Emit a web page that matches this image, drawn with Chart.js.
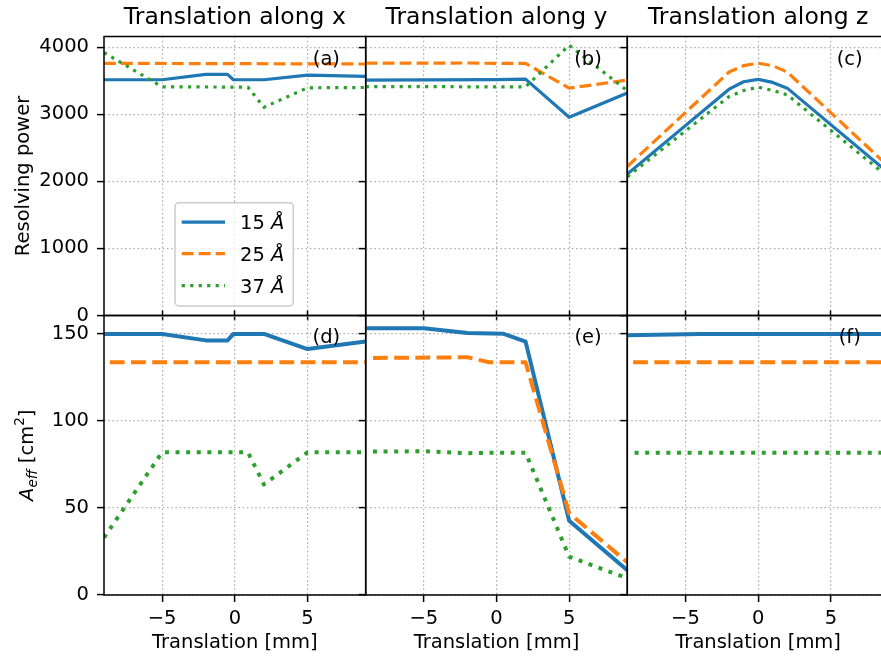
<!DOCTYPE html>
<html>
<head>
<meta charset="utf-8">
<script src="https://cdn.jsdelivr.net/npm/chart.js@4.4.0/dist/chart.umd.min.js"></script>
<style>
  html, body { margin: 0; padding: 0; background: #fff; overflow: hidden; }
  #wrap { position: relative; width: 881px; height: 657px; overflow: hidden; }
  #wrap canvas { position: absolute; left: 0; top: 0; }
</style>
</head>
<body>
<div id="wrap">
  <canvas id="pa" width="900" height="657"></canvas>
  <canvas id="pb" width="900" height="657"></canvas>
  <canvas id="pc" width="900" height="657"></canvas>
  <canvas id="pd" width="900" height="657"></canvas>
  <canvas id="pe" width="900" height="657"></canvas>
  <canvas id="pf" width="900" height="657"></canvas>
</div>
<script>
// labels and ticks
const columnTitles = ['Translation along x', 'Translation along y', 'Translation along z'];
const panelLabels = ['(a)', '(b)', '(c)', '(d)', '(e)', '(f)'];
const seriesNames = ['15', '25', '37'];   // wavelength in Å
const xTicks = [-5, 0, 5];
const powerTicks = [0, 1000, 2000, 3000, 4000];
const areaTicks = [0, 50, 100, 150];

// (a) resolving power, translation along x
const a15x = [-9, -5, -2, -0.5, -0.1, 2, 5, 9];
const a15y = [3515, 3515, 3595, 3595, 3515, 3515, 3585, 3565];
const a25x = [-9, 9];
const a25y = [3760, 3750];
const a37x = [-9, -5, 0.9, 2, 5, 9];
const a37y = [3920, 3410, 3405, 3105, 3395, 3400];

// (b) resolving power, translation along y
const b15x = [-9, -5, 0, 2, 5, 9];
const b15y = [3510, 3512, 3518, 3525, 2955, 3318];
const b25x = [-9, -5, -2, 0, 2, 5, 9];
const b25y = [3762, 3762, 3765, 3758, 3758, 3390, 3510];
const b37x = [-9, -5, 0, 2, 5, 9];
const b37y = [3413, 3413, 3408, 3410, 4030, 3350];

// (c) resolving power, translation along z
const c15x = [-9, -2, -1, 0, 1, 2, 9];
const c15y = [2110, 3375, 3485, 3520, 3475, 3390, 2120];
const c25x = [-9, -2, -1, 0, 1, 2, 9];
const c25y = [2222, 3630, 3725, 3762, 3725, 3630, 2215];
const c37x = [-9, -2, -1, 0, 1, 2, 9];
const c37y = [2070, 3265, 3355, 3405, 3355, 3290, 2055];

// (d) effective area, translation along x
const d15x = [-9, -5, -2, -0.5, -0.1, 2, 5, 9];
const d15y = [150, 150, 146.3, 146.3, 150, 150, 141.3, 145.6];
const d25x = [-8.6, 9];
const d25y = [133.7, 133.7];
const d37x = [-9, -5, 0.9, 2, 5, 9];
const d37y = [33, 82, 82, 63.5, 82, 82];

// (e) effective area, translation along y
const e15x = [-9, -5, -2, 0.5, 2, 5, 9];
const e15y = [153.3, 153.3, 150.5, 150.1, 145.6, 42.7, 14.2];
const e25x = [-8.5, -2, -0.5, 2, 5, 9];
const e25y = [136.2, 136.6, 133.7, 133.7, 47, 18.8];
const e37x = [-8.5, -5, -2, 0, 2, 5, 9];
const e37y = [82.4, 82.6, 81.5, 81.8, 81.8, 22, 9.6];

// (f) effective area, translation along z
const f15x = [-9, -4, 9];
const f15y = [149.3, 149.9, 150];
const f25x = [-8.6, 9];
const f25y = [133.7, 133.7];
const f37x = [-8.5, 9];
const f37y = [81.8, 81.8];

Chart.defaults.font.family = '"DejaVu Sans", sans-serif';
Chart.defaults.color = '#000';

const BLUE = '#1f77b4', ORANGE = '#ff7f0e', GREEN = '#2ca02c';
const FONT = '"DejaVu Sans"';
const colLeft = [104, 365.7, 627.3], colRight = [365.7, 627.3, 889];
const rowTop = [36.5, 315.5], rowBottom = [315.5, 595];
const CW = 900, CH = 657, YW = 96;

const pts = (xs, ys) => xs.map((x, i) => ({ x: x, y: ys[i] }));
const fmt = v => (v < 0 ? '\u2212' + Math.abs(v) : String(v));
const fixedTicks = vals => scale => { scale.ticks = vals.map(v => ({ value: v })); };

function gridOpts(len) {
  return { color: '#b0b0b0', lineWidth: 1.2, tickLength: len, tickColor: '#000', tickWidth: 1.5, tickBorderDash: [] };
}
const borderOpts = { display: false, dash: [1.6, 2.6] };

function drawLegend(chart) {
  const ctx = chart.ctx, a = chart.chartArea;
  const x0 = a.left + 71, y0 = a.top + 166.2;
  ctx.save();
  ctx.beginPath();
  ctx.roundRect(x0, y0, 118.3, 103.3, 4);
  ctx.fillStyle = 'rgba(255,255,255,0.8)';
  ctx.fill();
  ctx.strokeStyle = '#cccccc';
  ctx.lineWidth = 1.5;
  ctx.stroke();
  const rows = [y0 + 19.5, y0 + 51, y0 + 83];
  const order = chart.data.datasets.slice().sort((p, q) => q.order - p.order);
  order.forEach((ds, i) => {
    const y = rows[i];
    ctx.beginPath();
    ctx.setLineDash(ds.borderDash);
    ctx.lineDashOffset = 0;
    ctx.lineCap = 'butt';
    ctx.strokeStyle = ds.borderColor;
    ctx.lineWidth = ds.borderWidth;
    ctx.moveTo(x0 + 6.7, y);
    ctx.lineTo(x0 + 50, y);
    ctx.stroke();
    ctx.setLineDash([]);
    ctx.fillStyle = '#000';
    ctx.textAlign = 'left';
    ctx.textBaseline = 'alphabetic';
    ctx.font = '19.5px ' + FONT;
    const t = ds.label + ' ';
    ctx.fillText(t, x0 + 65, y + 6.8);
    const w = ctx.measureText(t).width;
    ctx.font = 'italic 19.5px ' + FONT;
    ctx.fillText('\u00C5', x0 + 65 + w, y + 6.8);
  });
  ctx.restore();
}

function drawAeff(ctx, cy) {
  const parts = [
    { t: 'A', f: 'italic 19.5px ' + FONT, dy: 0 },
    { t: 'eff', f: 'italic 13.6px ' + FONT, dy: 3.5 },
    { t: ' [cm', f: '19.5px ' + FONT, dy: 0 },
    { t: '2', f: '13.6px ' + FONT, dy: -9 },
    { t: ']', f: '19.5px ' + FONT, dy: 0 }
  ];
  ctx.save();
  ctx.translate(33, cy);
  ctx.rotate(-Math.PI / 2);
  ctx.textAlign = 'left';
  ctx.textBaseline = 'alphabetic';
  ctx.fillStyle = '#000';
  let total = 0;
  parts.forEach(p => { ctx.font = p.f; p.w = ctx.measureText(p.t).width; total += p.w; });
  let x = -total / 2;
  parts.forEach(p => { ctx.font = p.f; ctx.fillText(p.t, x, p.dy); x += p.w; });
  ctx.restore();
}

const decor = {
  id: 'decor',
  afterDraw(chart, args, o) {
    const ctx = chart.ctx, a = chart.chartArea;
    ctx.save();
    ctx.strokeStyle = '#000';
    ctx.lineWidth = 1.5;
    ctx.strokeRect(a.left, a.top, a.right - a.left, a.bottom - a.top);
    ctx.fillStyle = '#000';
    ctx.textAlign = 'center';
    ctx.textBaseline = 'alphabetic';
    ctx.font = '19.5px ' + FONT;
    ctx.fillText(o.label, a.right - 39.3, a.top + o.labelDy);
    if (o.title) {
      ctx.font = '23.5px ' + FONT;
      ctx.fillText(o.title, (a.left + a.right) / 2, 24);
    }
    ctx.restore();
    if (o.legend) drawLegend(chart);
    if (o.aeff) drawAeff(ctx, (a.top + a.bottom) / 2);
  }
};

function makePanel(id, col, row, lines, yTicks, yMax) {
  const lw = row === 0 ? 3.2 : 4;
  const dashes = [[], [3.7 * lw, 1.6 * lw], [lw, 1.65 * lw]];
  const colors = [BLUE, ORANGE, GREEN];
  const bottomRow = row === 1;
  const xH = bottomRow ? 60 : 5;
  const topH = bottomRow ? 5 : 0;
  const datasets = lines.map((ln, i) => ({
    label: seriesNames[i],
    data: pts(ln[0], ln[1]),
    borderColor: colors[i],
    borderWidth: lw,
    borderDash: dashes[i],
    borderCapStyle: 'butt',
    borderJoinStyle: 'round',
    pointRadius: 0,
    tension: 0,
    fill: false,
    clip: 0,
    order: 3 - i
  }));
  const scales = {
    x: {
      type: 'linear', min: -9, max: 9,
      afterBuildTicks: fixedTicks(xTicks),
      afterFit: s => { s.height = xH; },
      grid: gridOpts(bottomRow ? 7 : 5),
      border: borderOpts,
      ticks: { display: bottomRow, callback: fmt, padding: 5, maxRotation: 0, font: { size: 19.5 } },
      title: { display: bottomRow, text: 'Translation [mm]', font: { size: 19.5 }, padding: { top: 0, bottom: 0.5 } }
    },
    y: {
      type: 'linear', min: 0, max: yMax,
      afterBuildTicks: fixedTicks(yTicks),
      afterFit: s => { s.width = YW; },
      grid: gridOpts(7),
      border: borderOpts,
      ticks: { display: col === 0, callback: fmt, padding: 8, font: { size: 19.5 } },
      title: { display: col === 0 && row === 0, text: 'Resolving power', font: { size: 19.5 }, padding: { top: 4.5, bottom: 0 } }
    }
  };
  if (bottomRow) {
    scales.x2 = {
      type: 'linear', position: 'top', min: -9, max: 9,
      afterBuildTicks: fixedTicks(xTicks),
      afterFit: s => { s.height = topH; },
      grid: { drawOnChartArea: false, tickLength: 5, tickColor: '#000', tickWidth: 1.5 },
      border: { display: false },
      ticks: { display: false }
    };
  }
  return new Chart(document.getElementById(id), {
    type: 'line',
    data: { datasets: datasets },
    options: {
      responsive: false,
      animation: false,
      devicePixelRatio: 1,
      layout: {
        padding: {
          left: colLeft[col] - YW,
          right: CW - colRight[col],
          top: rowTop[row] - topH,
          bottom: CH - rowBottom[row] - xH
        }
      },
      scales: scales,
      plugins: {
        legend: { display: false },
        tooltip: { enabled: false },
        decor: {
          label: panelLabels[row * 3 + col],
          labelDy: row === 0 ? 28.5 : 27.8,
          title: row === 0 ? columnTitles[col] : '',
          legend: row === 0 && col === 0,
          aeff: row === 1 && col === 0
        }
      }
    },
    plugins: [decor]
  });
}

makePanel('pa', 0, 0, [[a15x, a15y], [a25x, a25y], [a37x, a37y]], powerTicks, 4160);
makePanel('pb', 1, 0, [[b15x, b15y], [b25x, b25y], [b37x, b37y]], powerTicks, 4160);
makePanel('pc', 2, 0, [[c15x, c15y], [c25x, c25y], [c37x, c37y]], powerTicks, 4160);
makePanel('pd', 0, 1, [[d15x, d15y], [d25x, d25y], [d37x, d37y]], areaTicks, 160.6);
makePanel('pe', 1, 1, [[e15x, e15y], [e25x, e25y], [e37x, e37y]], areaTicks, 160.6);
makePanel('pf', 2, 1, [[f15x, f15y], [f25x, f25y], [f37x, f37y]], areaTicks, 160.6);
</script>
</body>
</html>
